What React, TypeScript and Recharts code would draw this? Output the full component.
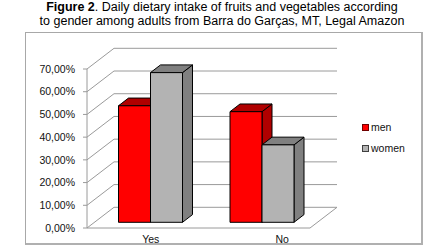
import React from 'react';
import { BarChart, Bar, XAxis, YAxis, CartesianGrid } from 'recharts';

const categories = ['Yes', 'No'];
const menValues = [51.3, 48.7];
const womenValues = [65.9, 34.1];
const yTicks = [0, 10, 20, 30, 40, 50, 60, 70];
const seriesNames = ['men', 'women'];
const seriesFront = ['#ff0000', '#b3b3b3'];
const seriesSide = ['#b00000', '#808080'];

const data = categories.map((cat, i) => ({ cat, men: menValues[i], women: womenValues[i] }));

const DEPTH_X = 27;
const DEPTH_Y = -20.7;
const OFF_X = 7.5;
const OFF_Y = -5.7;
const BAR_DX = 10;
const BAR_DY = -7.7;
const GRID = '#9a9a9a';
const FONT = '"Liberation Sans", Arial, sans-serif';

const make3DBar = (front: string, side: string) => (props: any) => {
  const { x, y, width, height } = props;
  const fx = x + OFF_X;
  const fy = y + OFF_Y;
  const w = width;
  const h = height;
  return (
    <g stroke="#000" strokeWidth={1} strokeLinejoin="round">
      <polygon
        points={`${fx + w},${fy} ${fx + w + BAR_DX},${fy + BAR_DY} ${fx + w + BAR_DX},${fy + h + BAR_DY} ${fx + w},${fy + h}`}
        fill={side}
      />
      <polygon
        points={`${fx},${fy} ${fx + BAR_DX},${fy + BAR_DY} ${fx + w + BAR_DX},${fy + BAR_DY} ${fx + w},${fy}`}
        fill={side}
      />
      <rect x={fx} y={fy} width={w} height={h} fill={front} />
    </g>
  );
};

const gridLine = (props: any) => {
  const { x1, y1, x2, index } = props;
  const bx = x1 + DEPTH_X;
  const by = y1 + DEPTH_Y;
  return (
    <g key={`g-${index}`} stroke={GRID} strokeWidth={1} fill="none">
      <polyline points={`${x1},${y1} ${bx},${by} ${x2 + DEPTH_X},${by}`} />
      {index === 0 && (
        <polyline points={`${x1},${y1} ${x2},${y1} ${x2 + DEPTH_X},${by}`} />
      )}
    </g>
  );
};

const labelShift = [8, 28];

const XTick = (props: any) => {
  const { x, y, payload, index } = props;
  return (
    <text x={x + labelShift[index]} y={y} dy="0.71em" textAnchor="middle" fontSize={10.5} fill="#111" fontFamily={FONT}>
      {payload.value}
    </text>
  );
};

export default function App() {
  return (
    <div style={{ position: 'absolute', left: 0, top: 0, width: 444, height: 249, background: '#fff', fontFamily: FONT }}>
      <div style={{ position: 'absolute', left: 0, top: 0, width: 444, textAlign: 'center', fontSize: 12.5, lineHeight: '14px', color: '#000' }}>
        <div><b>Figure 2</b>. Daily dietary intake of fruits and vegetables according</div>
        <div>to gender among adults from Barra do Garças, MT, Legal Amazon</div>
      </div>
      <div style={{ position: 'absolute', left: 25, top: 32, width: 395, height: 210, borderLeft: '1px solid #a8a8a8', borderTop: '1px solid #a8a8a8', borderRight: '2px solid #b0b0b0', borderBottom: '2px solid #b0b0b0' }} />
      <div style={{ position: 'absolute', left: 0, top: 0 }}>
        <BarChart width={444} height={249} data={data} margin={{ top: 69, right: 134, bottom: 1, left: 27 }} barSize={32} barGap={0} barCategoryGap={0}>
          <CartesianGrid vertical={false} horizontal={gridLine} />
          <YAxis
            width={60}
            domain={[0, 70]}
            ticks={yTicks}
            interval={0}
            tickSize={4}
            tickMargin={8}
            axisLine={{ stroke: GRID }}
            tickLine={{ stroke: GRID }}
            tick={{ fontSize: 10.5, fill: '#111', fontFamily: FONT }}
            tickFormatter={(v: number) => v.toFixed(2).replace('.', ',') + '%'}
          />
          <XAxis dataKey="cat" height={20} axisLine={false} tickLine={false} tickSize={8} tickMargin={0} tick={<XTick />} interval={0} />
          <Bar dataKey="men" name={seriesNames[0]} fill={seriesFront[0]} shape={make3DBar(seriesFront[0], seriesSide[0])} isAnimationActive={false} />
          <Bar dataKey="women" name={seriesNames[1]} fill={seriesFront[1]} shape={make3DBar(seriesFront[1], seriesSide[1])} isAnimationActive={false} />
        </BarChart>
      </div>
      <div style={{ position: 'absolute', left: 362, top: 120, fontSize: 10.5, color: '#111', fontFamily: FONT }}>
        {seriesNames.map((name, i) => (
          <div key={name} style={{ display: 'flex', alignItems: 'center', height: 14, marginBottom: 7 }}>
            <span style={{ display: 'inline-block', width: 5, height: 5, background: seriesFront[i], border: `1px solid ${i === 0 ? '#700000' : '#404040'}`, marginRight: 2 }} />
            <span>{name}</span>
          </div>
        ))}
      </div>
    </div>
  );
}
